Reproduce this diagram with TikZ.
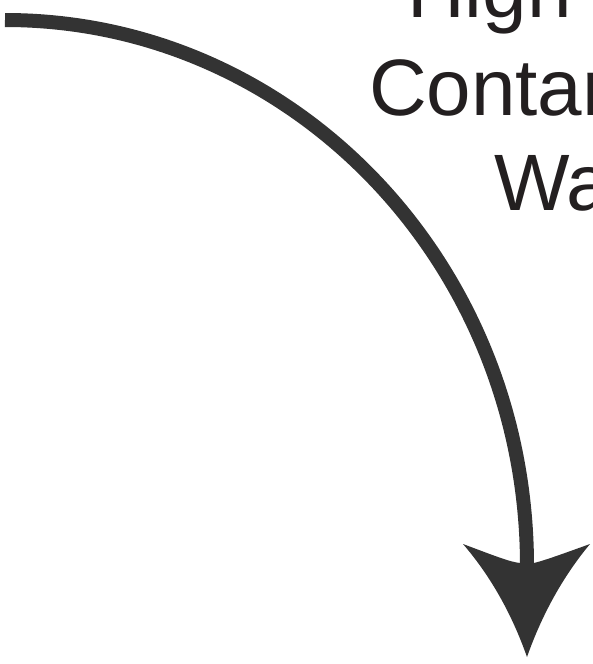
\documentclass[tikz,border=0pt]{standalone}
\usepackage{fontspec}
\setmainfont{Liberation Sans}
\definecolor{ink}{HTML}{333333}
\definecolor{txt}{HTML}{231F20}
\begin{document}
\begin{tikzpicture}[x=1pt,y=-1pt,
  lbl/.style={anchor=base west,inner sep=0pt,outer sep=0pt,text=txt,font=\fontsize{80}{95}\selectfont},
  shaft/.style={draw=ink,line width=14pt,line cap=butt},
  head/.style={fill=ink}]
\useasboundingbox (0,0) rectangle (592,664);
\clip (0,0) rectangle (592,664);
\fill[white] (0,0) rectangle (592,664);
\node[lbl] (l1) at (407,17) {High};
\node[lbl] (l2) at (369,115) {Contam};
\node[lbl] (l3) at (494,210) {Wa};
\coordinate (s) at (5,20);
\coordinate (e) at (527,566);
\draw[shaft] (s) .. controls (293,20) and (527,263) .. (e);
\fill[head] (463,544) .. controls (495,556) and (510,562) .. (520,563)
  -- (534,563) .. controls (546,560) and (565,553) .. (590,544)
  .. controls (560,580) and (540,620) .. (527,657)
  .. controls (514,620) and (494,580) .. cycle;
\end{tikzpicture}
\end{document}
